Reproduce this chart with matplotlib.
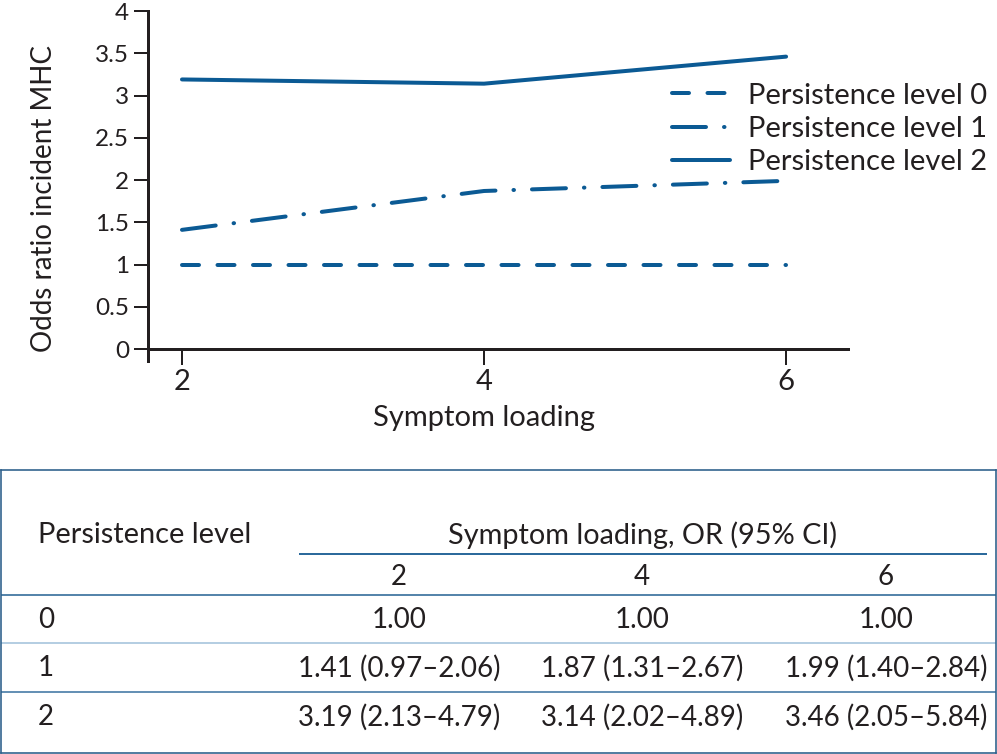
import matplotlib
matplotlib.use("Agg")
import matplotlib.pyplot as plt

plt.rcParams['font.family'] = ['Lato', 'DejaVu Sans']
plt.rcParams['lines.scale_dashes'] = False

# ---- data ----
symptom_loading = [2, 4, 6]
level_labels = ["Persistence level 0", "Persistence level 1", "Persistence level 2"]
or_level0 = [1.00, 1.00, 1.00]
or_level1 = [1.41, 1.87, 1.99]
or_level2 = [3.19, 3.14, 3.46]
ci_low_level1 = [0.97, 1.31, 1.40]
ci_high_level1 = [2.06, 2.67, 2.84]
ci_low_level2 = [2.13, 2.02, 2.05]
ci_high_level2 = [4.79, 4.89, 5.84]
yticks = [0, 0.5, 1, 1.5, 2, 2.5, 3, 3.5, 4]
ytick_labels = ["0", "0.5", "1", "1.5", "2", "2.5", "3", "3.5", "4"]
table_rows = ["0", "1", "2"]

W, H = 997, 754
BLUE = '#0b5a94'
TXT = '#231f20'
px = 0.72  # points per pixel at dpi 100

fig = plt.figure(figsize=(W / 100, H / 100), dpi=100)

# ---- chart ----
ax = fig.add_axes([148 / W, 1 - 361 / H, (848 - 148) / W, (361 - 11) / H])
lw = 4 * px
l0, = ax.plot(symptom_loading, or_level0, color=BLUE, lw=lw,
              linestyle=(0, (17 * px, 18.5 * px)), dash_capstyle='round')
l1, = ax.plot(symptom_loading, or_level1, color=BLUE, lw=lw,
              linestyle=(0, (34 * px, 18 * px, 0.5 * px, 18 * px)), dash_capstyle='round')
l2, = ax.plot(symptom_loading, or_level2, color=BLUE, lw=lw,
              solid_capstyle='round', solid_joinstyle='round')

ax.set_xlim(1.775, 6.41)
ax.set_ylim(-0.142, 4.0)
ax.spines['top'].set_visible(False)
ax.spines['right'].set_visible(False)
ax.spines['bottom'].set_position(('data', 0))
for s in ('left', 'bottom'):
    ax.spines[s].set_linewidth(3 * px)
    ax.spines[s].set_color(TXT)
ax.set_xticks(symptom_loading)
ax.set_xticklabels([str(v) for v in symptom_loading])
ax.set_yticks(yticks)
ax.set_yticklabels(ytick_labels)
ax.tick_params(axis='x', direction='out', length=16 * px, width=2 * px, color=TXT,
               labelsize=21, labelcolor=TXT, pad=3)
ax.tick_params(axis='y', direction='out', length=14 * px, width=2 * px, color=TXT,
               labelsize=17.5, labelcolor=TXT, pad=3.5)
ax.patch.set_visible(False)

fig.text(44 / W, 1 - 198 / H, "Odds ratio incident MHC", rotation=90,
         ha='center', va='center', fontsize=20, color=TXT)
fig.text(484 / W, 1 - 418 / H, "Symptom loading", ha='center', va='center',
         fontsize=21, color=TXT)

leg = ax.legend([l0, l1, l2], level_labels, loc='center left',
                bbox_to_anchor=(672 / W, 1 - 129 / H), bbox_transform=fig.transFigure,
                frameon=False, fontsize=21, handlelength=1.98, handletextpad=0.62,
                labelspacing=0.25, borderpad=0, borderaxespad=0)
for t in leg.get_texts():
    t.set_color(TXT)

# ---- table ----
tx = fig.add_axes([1 / W, 1 - 753 / H, 995 / W, 283 / H])
tx.set_xlim(1, 996)
tx.set_ylim(753, 470)
tx.set_xticks([])
tx.set_yticks([])
for s in tx.spines.values():
    s.set_color('#2c5f8a')
    s.set_linewidth(1.6 * px)

fs = 20
col_x = [399, 642, 886]
tx.text(38, 535, "Persistence level", ha='left', va='center', fontsize=20.9, color=TXT)
tx.text(642, 535, "Symptom loading, OR (95% CI)", ha='center', va='center', fontsize=20.8, color=TXT)
tx.plot([300, 986], [554, 554], color='#2c6a9c', lw=2 * px)
for cx, v in zip(col_x, symptom_loading):
    tx.text(cx, 577, str(v), ha='center', va='center', fontsize=fs, color=TXT)
tx.plot([1, 996], [595, 595], color='#2d6797', lw=1.6 * px)
tx.plot([1, 996], [643, 643], color='#a3c2db', lw=1.6 * px)
tx.plot([1, 996], [692, 692], color='#3f76a3', lw=1.6 * px)

row_y = [620, 668, 717]
row_cells = [
    [f"{v:.2f}" for v in or_level0],
    [f"{v:.2f} ({lo:.2f}\u2013{hi:.2f})" for v, lo, hi in zip(or_level1, ci_low_level1, ci_high_level1)],
    [f"{v:.2f} ({lo:.2f}\u2013{hi:.2f})" for v, lo, hi in zip(or_level2, ci_low_level2, ci_high_level2)],
]
for ry, lab, cells in zip(row_y, table_rows, row_cells):
    tx.text(38, ry, lab, ha='left', va='center', fontsize=fs, color=TXT)
    for cx, c in zip(col_x, cells):
        tx.text(cx, ry, c, ha='center', va='center', fontsize=fs, color=TXT)

fig.savefig("out.png", dpi=100)
